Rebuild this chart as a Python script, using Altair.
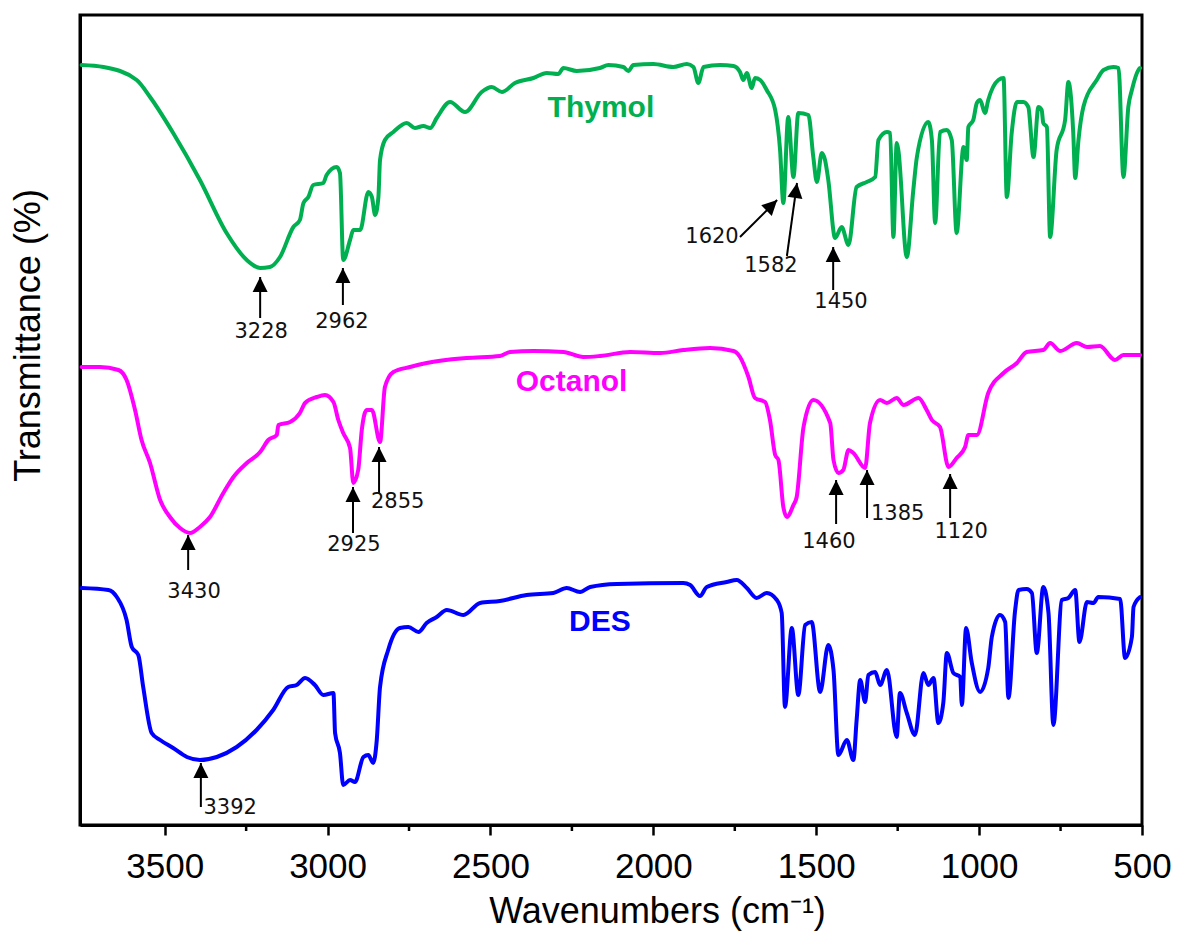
import math
import altair as alt
import pandas as pd

# ---------------- data ----------------
# Thymol spectrum (wavenumber, offset transmittance)
thymol_wn = [3755, 3688, 3586, 3545, 3474, 3392, 3310, 3248, 3207, 3177, 3146, 3105, 3085, 3074, 3059, 3044,
             3013, 3003, 2972, 2962, 2952, 2931, 2921, 2900, 2875, 2864, 2854, 2844, 2839, 2824, 2798, 2757,
             2732, 2706, 2685, 2665, 2624, 2578, 2527, 2496, 2465, 2425, 2368, 2327, 2292, 2276, 2235, 2164,
             2138, 2092, 2077, 2061, 2000, 1939, 1897, 1877, 1862, 1846, 1795, 1754, 1734, 1724, 1713, 1698,
             1688, 1672, 1652, 1626, 1611, 1601, 1586, 1570, 1555, 1524, 1509, 1498, 1483, 1473, 1463, 1442,
             1422, 1401, 1376, 1345, 1319, 1309, 1283, 1273, 1263, 1253, 1248, 1222, 1202, 1191, 1156, 1145,
             1135, 1120, 1099, 1084, 1069, 1048, 1038, 1033, 1018, 1007, 997, 982, 972, 941, 925, 915, 900,
             884, 864, 849, 833, 818, 808, 803, 792, 782, 762, 736, 726, 711, 705, 695, 680, 639, 618, 588,
             572, 557, 542, 531, 511, 506]
thymol_t = [76.0, 75.8, 74.5, 72.8, 69.2, 64.5, 59.2, 56.5, 55.7, 55.8, 56.8, 59.8, 60.5, 62.2, 62.8, 64.0,
            64.2, 65.0, 65.8, 65.2, 56.5, 58.5, 59.5, 59.5, 63.3, 62.8, 61.0, 62.8, 66.5, 68.5, 69.3, 70.2,
            69.7, 69.9, 69.7, 70.7, 72.3, 71.3, 73.3, 73.8, 73.3, 74.2, 74.7, 75.2, 75.1, 75.7, 75.4, 75.7,
            76.0, 75.8, 75.4, 76.0, 76.1, 75.8, 76.1, 75.8, 74.2, 75.8, 76.0, 75.9, 75.3, 74.5, 75.2, 73.7,
            74.7, 74.5, 73.5, 71.5, 67.5, 62.2, 70.8, 64.8, 71.2, 71.0, 66.8, 64.3, 67.2, 66.5, 64.5, 58.7,
            59.8, 58.0, 63.8, 64.3, 64.8, 68.5, 69.3, 69.2, 58.8, 68.2, 67.5, 56.8, 63.5, 66.8, 70.3, 68.5,
            60.2, 69.3, 69.5, 68.5, 59.2, 67.8, 66.5, 69.8, 70.5, 72.2, 72.5, 71.2, 72.5, 74.5, 74.7, 62.8, 69.2,
            72.3, 72.3, 71.8, 66.8, 71.8, 71.5, 70.2, 69.8, 58.8, 67.5, 70.5, 74.3, 69.2, 64.7, 68.5, 71.8, 74.5, 75.5, 75.8,
            75.7, 64.8, 71.8, 73.5, 75.5, 75.7]

octanol_wn = [3755, 3699, 3642, 3617, 3591, 3571, 3545, 3514, 3484, 3453, 3422, 3392, 3361, 3320, 3289, 3248,
              3207, 3182, 3156, 3151, 3115, 3085, 3069, 3033, 3008, 2982, 2967, 2952, 2931, 2921, 2906, 2895,
              2880, 2864, 2839, 2824, 2798, 2747, 2696, 2573, 2471, 2440, 2368, 2276, 2215, 2164, 2071, 1979,
              1908, 1826, 1754, 1734, 1708, 1688, 1657, 1642, 1626, 1616, 1601, 1590, 1570, 1560, 1539, 1509,
              1457, 1447, 1432, 1417, 1401, 1386, 1350, 1335, 1304, 1283, 1253, 1232, 1186, 1161, 1145, 1120,
              1094, 1069, 1043, 1033, 1007, 972, 925, 884, 854, 803, 782, 751, 700, 669, 629, 583, 557, 506]
octanol_t = [45.8, 45.8, 45.5, 44.5, 41.5, 38.5, 36.2, 32.5, 30.8, 29.7, 29.2, 29.8, 30.8, 33.2, 34.8, 36.2,
             37.3, 38.5, 39.0, 40.0, 40.3, 41.2, 42.2, 42.8, 43.0, 42.3, 40.5, 39.2, 37.7, 34.2, 35.5, 39.5,
             41.5, 41.5, 38.3, 43.8, 45.3, 45.8, 46.2, 46.7, 46.9, 47.3, 47.4, 47.3, 46.8, 46.9, 47.3, 47.2,
             47.5, 47.7, 47.4, 46.8, 44.8, 42.7, 42.3, 40.5, 37.0, 36.5, 31.8, 30.8, 32.0, 32.8, 39.8, 42.5,
             40.2, 36.5, 35.2, 35.5, 37.5, 37.2, 35.7, 40.2, 42.5, 42.2, 42.7, 42.0, 42.7, 41.5, 40.5, 39.8,
             35.8, 36.7, 37.8, 39.0, 39.0, 43.2, 45.2, 46.2, 47.3, 47.5, 48.2, 47.4, 48.2, 47.8, 47.9, 46.5, 47.0, 47.0]

des_wn = [3755, 3673, 3647, 3617, 3601, 3581, 3566, 3540, 3514, 3474, 3432, 3392, 3340, 3279, 3218, 3167,
          3121, 3095, 3069, 3039, 3013, 2982, 2977, 2962, 2952, 2931, 2916, 2890, 2875, 2860, 2849, 2839,
          2814, 2778, 2752, 2721, 2696, 2665, 2634, 2583, 2532, 2471, 2389, 2307, 2266, 2225, 2194, 2112,
          1908, 1887, 1857, 1836, 1775, 1744, 1713, 1683, 1652, 1621, 1606, 1596, 1575, 1555, 1534, 1514,
          1488, 1463, 1447, 1432, 1406, 1386, 1376, 1365, 1350, 1340, 1319, 1304, 1283, 1253, 1243, 1222,
          1197, 1171, 1156, 1140, 1125, 1110, 1099, 1079, 1058, 1053, 1040, 1023, 997, 972, 961, 936, 920,
          910, 890, 879, 854, 838, 823, 803, 787, 772, 746, 726, 705, 692, 669, 649, 634, 567, 552, 531, 526, 506]
des_t = [23.7, 23.5, 22.8, 20.5, 17.8, 17.0, 13.8, 9.2, 8.5, 7.7, 6.8, 6.5, 6.8, 7.8, 9.5, 11.5,
         13.8, 14.0, 14.7, 14.0, 13.0, 13.2, 9.2, 7.2, 4.0, 4.5, 4.3, 6.8, 7.0, 6.2, 8.5, 13.8,
         17.5, 19.7, 19.8, 19.3, 20.2, 20.8, 21.5, 21.0, 22.2, 22.4, 23.0, 23.2, 23.7, 23.3, 23.8, 24.1,
         24.2, 24.0, 22.9, 23.8, 24.3, 24.5, 23.7, 22.7, 23.2, 22.5, 21.2, 11.8, 19.7, 13.0, 20.0, 20.3,
         13.3, 18.0, 15.5, 7.0, 8.5, 6.5, 10.5, 14.5, 12.3, 15.0, 15.3, 14.0, 15.5, 8.8, 13.2, 11.2,
         9.0, 15.2, 14.0, 14.7, 10.2, 12.2, 17.2, 15.2, 14.8, 12.0, 19.7, 16.3, 13.3, 15.7, 18.8, 21.0, 20.3,
         12.7, 21.3, 23.5, 23.6, 23.2, 17.2, 23.8, 21.2, 10.0, 22.5, 22.7, 23.5, 18.3, 22.3, 22.2, 22.8, 22.6, 16.7, 18.8, 21.8, 22.8]

series_names = ["Thymol", "Octanol", "DES"]
series_colors = ["#00B050", "#FF00FF", "#0000FF"]
# series name labels (wavenumber, transmittance)
name_wn = [2161, 2251, 2164]
name_t = [71.7, 44.3, 20.3]

# peak annotations: label, arrow tail, arrow tip, label position
peak_labels = ["3228", "2962", "1620", "1582", "1450",
               "3430", "2925", "2855", "1460", "1385", "1120", "3392"]
tail_wn = [3207, 2953, 1734, 1590, 1448, 3428, 2922, 2842, 1439, 1344, 1089, 3389]
tail_t = [50.7, 52.0, 58.8, 56.9, 53.5, 25.5, 29.2, 33.2, 30.1, 30.7, 30.7, 1.8]
tip_wn = [3207, 2953, 1620, 1559, 1448, 3428, 2922, 2842, 1439, 1344, 1089, 3389]
tip_t = [54.8, 55.7, 62.5, 64.2, 57.8, 29.0, 33.8, 37.8, 34.5, 35.5, 35.1, 6.2]
lab_wn = [3204, 2956, 1820, 1639, 1424, 3410, 2919, 2785, 1461, 1250, 1055, 3299]
lab_t = [49.3, 50.3, 58.8, 55.9, 52.3, 23.3, 28.0, 32.3, 28.3, 31.1, 29.3, 1.7]

x_ticks = [3500, 3000, 2500, 2000, 1500, 1000, 500]
x_minor = [3250, 2750, 2250, 1750, 1250, 750]

# ---------------- layout ----------------
W, H = 1062, 810
X_DOMAIN = [3760, 500]
Y_DOMAIN = [0, 81]
kx = W / (X_DOMAIN[0] - X_DOMAIN[1])
ky = H / (Y_DOMAIN[1] - Y_DOMAIN[0])

rows = []
for name, wn, tt in [("Thymol", thymol_wn, thymol_t), ("Octanol", octanol_wn, octanol_t), ("DES", des_wn, des_t)]:
    for i, (a, b) in enumerate(zip(wn, tt)):
        rows.append({"series": name, "wn": a, "t": b, "i": i})
spec = pd.DataFrame(rows)

names = pd.DataFrame({"series": series_names, "wn": name_wn, "t": name_t})

angles = []
for a, b, c, d in zip(tail_wn, tail_t, tip_wn, tip_t):
    dx = (a - c) * kx
    dy = (d - b) * ky
    angles.append(math.degrees(math.atan2(dx, dy)) % 360)
arrows = pd.DataFrame({"label": peak_labels, "twn": tail_wn, "tt": tail_t, "pwn": tip_wn, "pt": tip_t,
                       "lwn": lab_wn, "lt": lab_t, "angle": angles})
minor = pd.DataFrame({"wn": x_minor})

xs = alt.Scale(domain=X_DOMAIN, nice=False, zero=False)
ys = alt.Scale(domain=Y_DOMAIN, nice=False, zero=False)
cs = alt.Scale(domain=series_names, range=series_colors)

x_axis = alt.Axis(values=x_ticks, format="d", title="Wavenumbers (cm\u207b\u00b9)", grid=False,
                  labelFont="Liberation Sans", labelFontSize=35, labelColor="black", labelPadding=14,
                  tickSize=10, tickWidth=2.5, tickColor="black", domainColor="black", domainWidth=3,
                  titleFont="Liberation Sans", titleFontSize=36, titleFontWeight="normal", titleColor="black",
                  titleX=577, titleY=86, titleBaseline="middle", titleAlign="center", labelFlush=False)
y_axis = alt.Axis(labels=False, ticks=False, grid=False, title="Transmittance (%)",
                  domainColor="black", domainWidth=3,
                  titleFont="Liberation Sans", titleFontSize=36, titleFontWeight="normal", titleColor="black",
                  titleAngle=270, titleX=-52, titleY=320, titleBaseline="middle", titleAlign="center")

lines = alt.Chart(spec).mark_line(strokeWidth=4, strokeJoin="round", strokeCap="round",
                                  interpolate="monotone").encode(
    x=alt.X("wn:Q", scale=xs, axis=x_axis),
    y=alt.Y("t:Q", scale=ys, axis=y_axis),
    color=alt.Color("series:N", scale=cs, legend=None),
    order=alt.Order("i:Q"),
    detail="series:N",
)

name_text = alt.Chart(names).mark_text(font="Liberation Sans", fontSize=30, fontWeight="bold",
                                        baseline="middle", align="center").encode(
    x=alt.X("wn:Q", scale=xs), y=alt.Y("t:Q", scale=ys), text="series:N",
    color=alt.Color("series:N", scale=cs, legend=None))

arrow_lines = alt.Chart(arrows).mark_rule(strokeWidth=2, color="black").encode(
    x=alt.X("twn:Q", scale=xs), y=alt.Y("tt:Q", scale=ys), x2="pwn:Q", y2="pt:Q")

heads = alt.Chart(arrows).mark_point(shape="M0,0L0.5,1L-0.5,1Z", filled=True, color="black",
                                     opacity=1, size=900, strokeWidth=0).encode(
    x=alt.X("pwn:Q", scale=xs), y=alt.Y("pt:Q", scale=ys), angle=alt.Angle("angle:Q", scale=None))

peak_text = alt.Chart(arrows).mark_text(font="DejaVu Sans", fontSize=21, color="#111111",
                                         baseline="middle", align="center").encode(
    x=alt.X("lwn:Q", scale=xs), y=alt.Y("lt:Q", scale=ys), text="label:N")

minor_ticks = alt.Chart(minor).mark_rule(strokeWidth=2.5, color="black").encode(
    x=alt.X("wn:Q", scale=xs), y=alt.value(H), y2=alt.value(H + 6))

chart = alt.layer(lines, name_text, arrow_lines, heads, peak_text, minor_ticks).properties(
    width=W, height=H,
    autosize=alt.AutoSizeParams(type="none"),
    padding={"left": 80, "top": 15, "right": 50, "bottom": 127},
    background="white",
).configure_view(stroke="black", strokeWidth=3)

chart.save("out.html", embed_options={"renderer": "svg", "actions": False})
